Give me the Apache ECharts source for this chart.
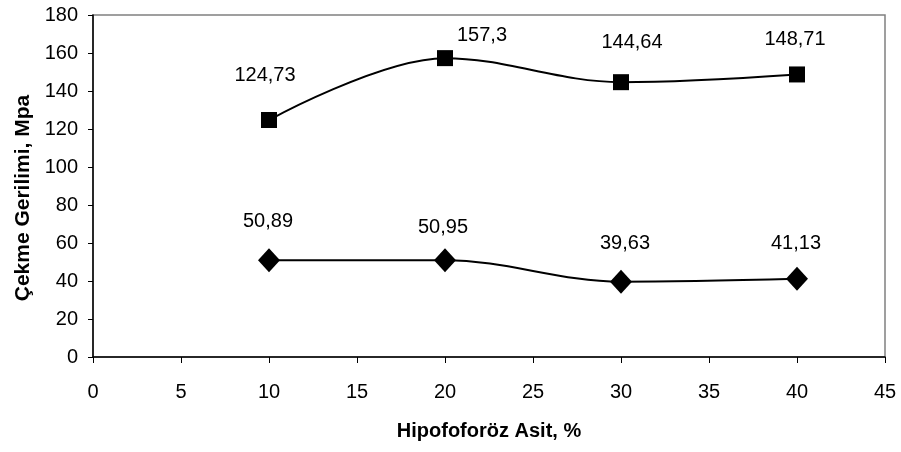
<!DOCTYPE html>
<html>
<head>
<meta charset="utf-8">
<script src="https://cdn.jsdelivr.net/npm/echarts@6/dist/echarts.min.js"></script>
<style>
html,body{margin:0;padding:0;background:#fff;}
#chart{width:901px;height:452px;}
</style>
</head>
<body>
<div id="chart"></div>
<script>
const xValues = [10, 20, 30, 40];
const upperValues = [124.73, 157.3, 144.64, 148.71];
const lowerValues = [50.89, 50.95, 39.63, 41.13];
const xTicks = [0, 5, 10, 15, 20, 25, 30, 35, 40, 45];
const yTicks = [0, 20, 40, 60, 80, 100, 120, 140, 160, 180];
const xTitle = 'Hipofoforöz Asit, %';
const yTitle = 'Çekme Gerilimi, Mpa';

// label placement (styling only)
const upperLabelOffsets = [[-4, -45], [37, -23], [11, -40], [-2, -35]];
const lowerLabelOffsets = [[-1, -39], [-2, -33], [4, -38], [-1, -35]];

const FONT = '"Liberation Sans", Arial, sans-serif';

function buildData(vals, offs) {
  return xValues.map((x, i) => ({
    value: [x, vals[i]],
    label: { offset: offs[i] }
  }));
}

const labelStyle = {
  show: true,
  position: 'inside',
  color: '#000',
  fontFamily: FONT,
  fontSize: 20,
  formatter: p => String(p.value[1]).replace('.', ',')
};

const chart = echarts.init(document.getElementById('chart'), null, { renderer: 'canvas' });
chart.setOption({
  animation: false,
  backgroundColor: '#fff',
  grid: {
    left: 93, right: 16, top: 15, bottom: 95,
    show: true, borderColor: '#808080', borderWidth: 1.5, backgroundColor: 'transparent'
  },
  xAxis: {
    type: 'value',
    min: xTicks[0], max: xTicks[xTicks.length - 1], interval: 5,
    name: xTitle, nameLocation: 'middle', nameGap: 64,
    nameTextStyle: { color: '#000', fontFamily: FONT, fontSize: 20, fontWeight: 'bold' },
    axisLine: { show: true, onZero: false, lineStyle: { color: '#000', width: 1.5 } },
    axisTick: { show: true, length: 6, lineStyle: { color: '#000', width: 1 } },
    axisLabel: { color: '#000', fontFamily: FONT, fontSize: 20, margin: 25 },
    splitLine: { show: false }
  },
  yAxis: {
    type: 'value',
    min: yTicks[0], max: yTicks[yTicks.length - 1], interval: 20,
    name: yTitle, nameLocation: 'middle', nameGap: 59,
    nameTextStyle: { color: '#000', fontFamily: FONT, fontSize: 21, fontWeight: 'bold', padding: [0, 24, 0, 0] },
    axisLine: { show: true, lineStyle: { color: '#000', width: 1.5 } },
    axisTick: { show: true, length: 5, lineStyle: { color: '#000', width: 1 } },
    axisLabel: { color: '#000', fontFamily: FONT, fontSize: 20, margin: 15 },
    splitLine: { show: false }
  },
  series: [
    {
      type: 'line',
      data: buildData(upperValues, upperLabelOffsets),
      smooth: 0.35,
      symbol: 'rect', symbolSize: 16,
      lineStyle: { color: '#000', width: 2 },
      itemStyle: { color: '#000' },
      label: labelStyle
    },
    {
      type: 'line',
      data: buildData(lowerValues, lowerLabelOffsets),
      smooth: 0.35,
      symbol: 'diamond', symbolSize: [22, 24],
      lineStyle: { color: '#000', width: 2 },
      itemStyle: { color: '#000' },
      label: labelStyle
    }
  ]
});
</script>
</body>
</html>
